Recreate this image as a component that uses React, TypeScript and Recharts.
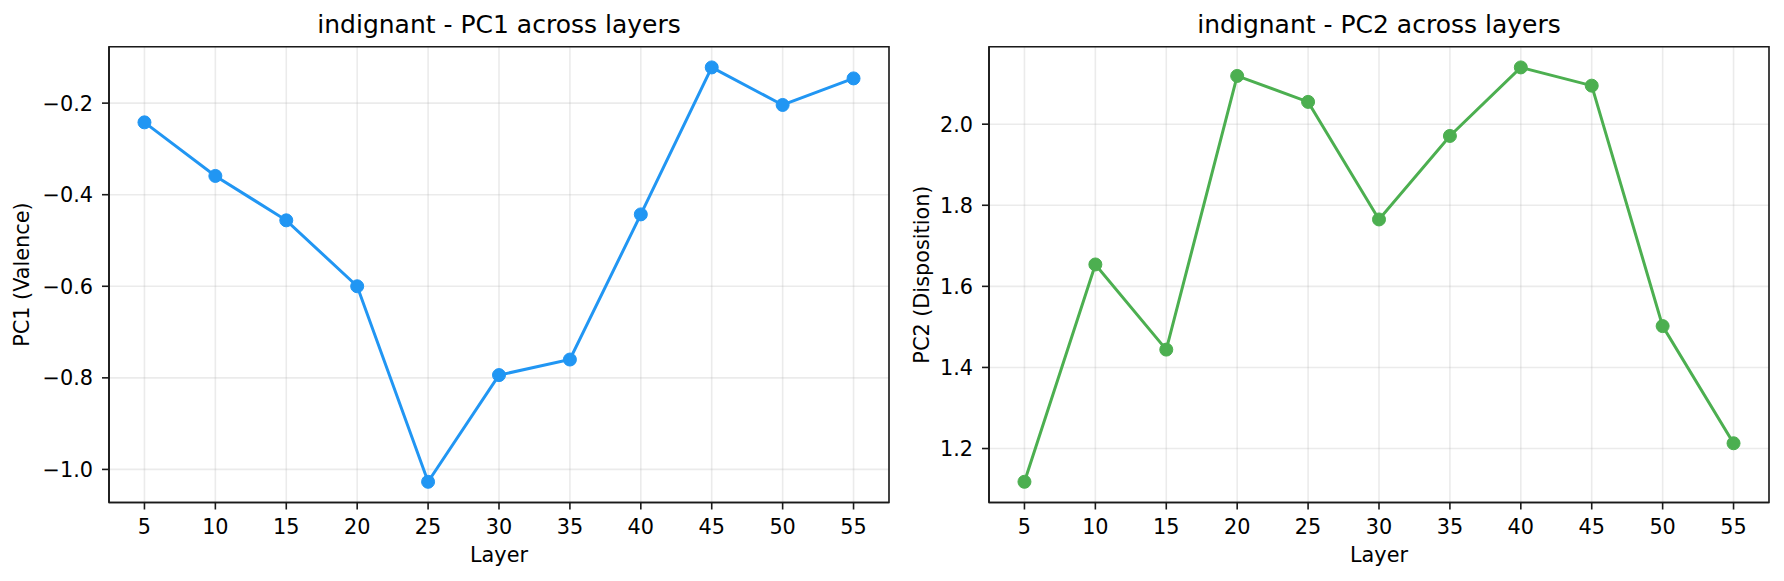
import { LineChart, Line, XAxis, YAxis, CartesianGrid, Label, ReferenceArea } from "recharts";

const LAYERS = [5, 10, 15, 20, 25, 30, 35, 40, 45, 50, 55];
const PC1_VALUES = [-0.242, -0.359, -0.456, -0.6, -1.027, -0.794, -0.76, -0.443, -0.122, -0.204, -0.146];
const PC2_VALUES = [1.118, 1.654, 1.444, 2.119, 2.055, 1.765, 1.971, 2.14, 2.095, 1.502, 1.213];
const PC1_TICKS = [-1.0, -0.8, -0.6, -0.4, -0.2];
const PC2_TICKS = [1.2, 1.4, 1.6, 1.8, 2.0];

const FONT = "DejaVu Sans, sans-serif";
const SPINE = "#1a1a1a";
const X_DOMAIN: [number, number] = [2.5, 57.5];

// matplotlib-style 5% padding around the data
function padDomain(vals: number[]): [number, number] {
  const lo = Math.min(...vals);
  const hi = Math.max(...vals);
  const pad = (hi - lo) * 0.05;
  return [lo - pad, hi + pad];
}

const fmt = (v: number) => v.toFixed(1).replace("-", "\u2212");

interface PanelProps {
  title: string;
  yLabel: string;
  values: number[];
  yTicks: number[];
  color: string;
  left: number;
  marginLeft: number;
  marginRight: number;
  yLabelX: number;
}

function Panel({ title, yLabel, values, yTicks, color, left, marginLeft, marginRight, yLabelX }: PanelProps) {
  const data = LAYERS.map((layer, i) => ({ layer, value: values[i] }));
  const yDomain = padDomain(values);
  const tickStyle = { fill: "#000", fontSize: 20.8, fontFamily: FONT };

  return (
    <div style={{ position: "absolute", left, top: 0 }}>
      <LineChart
        width={892}
        height={581}
        data={data}
        margin={{ top: 46.7, right: marginRight, bottom: 18.5, left: marginLeft }}
      >
        <CartesianGrid stroke="#b0b0b0" strokeOpacity={0.25} strokeWidth={1.6} />
        <XAxis
          dataKey="layer"
          type="number"
          domain={X_DOMAIN}
          ticks={LAYERS}
          interval={0}
          height={60}
          tick={tickStyle}
          tickSize={7}
          tickMargin={10}
          stroke={SPINE}
          strokeWidth={1.6}
        >
          <Label
            content={({ viewBox }: any) => (
              <text
                x={viewBox.x + viewBox.width / 2}
                y={viewBox.y + 59.8}
                textAnchor="middle"
                fontSize={20.8}
                fontFamily={FONT}
                fill="#000"
              >
                Layer
              </text>
            )}
          />
        </XAxis>
        <YAxis
          type="number"
          domain={yDomain}
          ticks={yTicks}
          interval={0}
          width={80}
          tick={tickStyle}
          tickFormatter={fmt}
          tickSize={7}
          tickMargin={9}
          stroke={SPINE}
          strokeWidth={1.6}
        >
          <Label
            content={({ viewBox }: any) => {
              const cy = viewBox.y + viewBox.height / 2;
              return (
                <text
                  x={yLabelX}
                  y={cy}
                  transform={`rotate(-90, ${yLabelX}, ${cy})`}
                  textAnchor="middle"
                  dominantBaseline="central"
                  fontSize={20.8}
                  fontFamily={FONT}
                  fill="#000"
                >
                  {yLabel}
                </text>
              );
            }}
          />
        </YAxis>
        {/* axes frame + title */}
        <ReferenceArea
          x1={X_DOMAIN[0]}
          x2={X_DOMAIN[1]}
          y1={yDomain[0]}
          y2={yDomain[1]}
          fill="none"
          fillOpacity={0}
          stroke={SPINE}
          strokeWidth={1.6}
          ifOverflow="visible"
        >
          <Label
            content={({ viewBox }: any) => (
              <text
                x={viewBox.x + viewBox.width / 2}
                y={viewBox.y - 13.5}
                textAnchor="middle"
                fontSize={25}
                fontFamily={FONT}
                fill="#000"
              >
                {title}
              </text>
            )}
          />
        </ReferenceArea>
        <Line
          type="linear"
          dataKey="value"
          stroke={color}
          strokeWidth={3}
          dot={{ r: 6.5, fill: color, stroke: color, strokeWidth: 1 }}
          activeDot={false}
          isAnimationActive={false}
        />
      </LineChart>
    </div>
  );
}

export default function App() {
  return (
    <div style={{ position: "relative", width: 1784, height: 581, background: "#fff" }}>
      <style>{"body{margin:0}"}</style>
      <Panel
        title="indignant - PC1 across layers"
        yLabel="PC1 (Valence)"
        values={PC1_VALUES}
        yTicks={PC1_TICKS}
        color="#2196F3"
        left={0}
        marginLeft={29}
        marginRight={3}
        yLabelX={22.5}
      />
      <Panel
        title="indignant - PC2 across layers"
        yLabel="PC2 (Disposition)"
        values={PC2_VALUES}
        yTicks={PC2_TICKS}
        color="#4CAF50"
        left={892}
        marginLeft={17}
        marginRight={15}
        yLabelX={29.7}
      />
    </div>
  );
}
